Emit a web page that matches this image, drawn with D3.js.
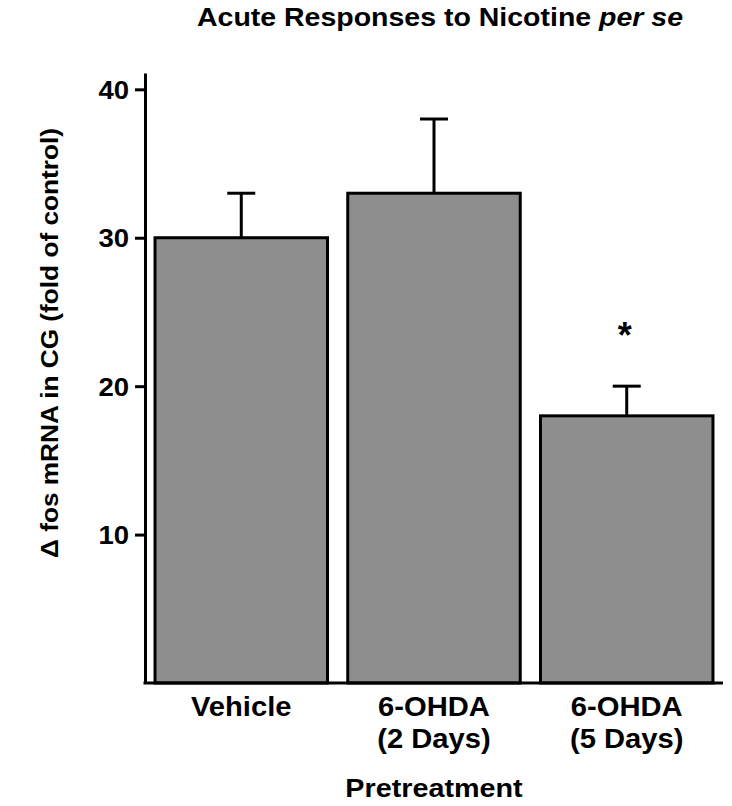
<!DOCTYPE html>
<html>
<head>
<meta charset="utf-8">
<script src="https://cdn.jsdelivr.net/npm/d3@7"></script>
<style>
  body { margin: 0; background: #fff; }
  text { font-family: "Liberation Sans", Arial, Helvetica, sans-serif; font-weight: bold; fill: #000; }
</style>
</head>
<body>
<svg id="chart" width="732" height="806"></svg>
<script>
// values
const groups = ["Vehicle", "6-OHDA (2 Days)", "6-OHDA (5 Days)"]
const groupLines = [["Vehicle"], ["6-OHDA", "(2 Days)"], ["6-OHDA", "(5 Days)"]]
const means = [30, 33, 18]
const errors = [3, 5, 2]
const significant = [false, false, true]
const yTicks = [10, 20, 30, 40]

const svg = d3.select("#chart")
const plotLeft = 145, plotRight = 723, plotBottom = 683, plotTop = 73

// the original lettering is a bit wider than Liberation Sans
function stretch(sel, cx, sx)
{
    sel.attr("transform", `translate(${cx},0) scale(${sx},1) translate(${-cx},0)`)
}

let x = d3.scaleBand()
    .domain(groups)
    .range([plotLeft, plotRight])
    .paddingInner(0.105)
    .paddingOuter(0.052)

let y = d3.scaleLinear()
    .domain([0, 41.1])
    .range([plotBottom, plotTop])

// bars
svg.selectAll("rect.bar")
    .data(groups)
    .enter()
    .append("rect")
        .attr("class", "bar")
        .attr("x", d => x(d))
        .attr("y", (d, i) => y(means[i]))
        .attr("width", x.bandwidth())
        .attr("height", (d, i) => y(0) - y(means[i]))
        .style("fill", "#8e8e8e")
        .style("stroke", "#000")
        .style("stroke-width", 3)

// error bars (upper only)
const capHalf = 14
let err = svg.selectAll("g.err")
    .data(groups)
    .enter()
    .append("g")
        .attr("class", "err")
        .attr("transform", d => `translate(${x(d) + x.bandwidth()/2},0)`)
err.append("line")
    .attr("x1", 0).attr("x2", 0)
    .attr("y1", (d, i) => y(means[i]))
    .attr("y2", (d, i) => y(means[i] + errors[i]))
    .style("stroke", "#000").style("stroke-width", 3)
err.append("line")
    .attr("x1", -capHalf).attr("x2", capHalf)
    .attr("y1", (d, i) => y(means[i] + errors[i]))
    .attr("y2", (d, i) => y(means[i] + errors[i]))
    .style("stroke", "#000").style("stroke-width", 3)

// significance star
svg.selectAll("text.star")
    .data(groups.filter((d, i) => significant[i]))
    .enter()
    .append("text")
        .attr("class", "star")
        .attr("x", d => x(d) + x.bandwidth()/2 - 2)
        .attr("y", d => y(means[groups.indexOf(d)] + errors[groups.indexOf(d)]) - 38)
        .attr("text-anchor", "middle")
        .style("font-size", "36px")
        .text("*")

// y axis
let yAxis = svg.append("g")
    .attr("transform", `translate(${plotLeft},0)`)
    .call(d3.axisLeft(y).tickValues(yTicks).tickSize(10).tickSizeOuter(0).tickPadding(6))
yAxis.select(".domain").style("stroke-width", 3)
yAxis.selectAll(".tick line").style("stroke-width", 3)
yAxis.selectAll(".tick text")
    .style("font-size", "25px")
    .style("font-family", "Liberation Sans, Arial, sans-serif")
    .style("font-weight", "bold")
    .attr("dy", "0.36em")
    .call(stretch, -16, 1.1)

// x axis line
svg.append("line")
    .attr("x1", plotLeft - 1.5).attr("x2", plotRight)
    .attr("y1", plotBottom).attr("y2", plotBottom)
    .style("stroke", "#000").style("stroke-width", 3)

// category labels
let lab = svg.selectAll("text.cat")
    .data(groups)
    .enter()
    .append("text")
        .attr("class", "cat")
        .attr("text-anchor", "middle")
        .style("font-size", "27px")
lab.each(function (d, i) {
    let t = d3.select(this)
    let cx = x(d) + x.bandwidth()/2
    groupLines[i].forEach(function (line, j) {
        t.append("tspan")
            .attr("x", cx)
            .attr("y", 716 + j * 32)
            .text(line)
    })
    stretch(t, cx, 1.08)
})

// axis titles
svg.append("text")
    .attr("x", (plotLeft + plotRight) / 2)
    .attr("y", 797)
    .attr("text-anchor", "middle")
    .style("font-size", "25px")
    .text("Pretreatment")
    .call(stretch, (plotLeft + plotRight) / 2, 1.15)

svg.append("g")
    .attr("transform", "translate(58,343) rotate(-90)")
  .append("text")
    .attr("text-anchor", "middle")
    .style("font-size", "23px")
    .text("Δ fos mRNA in CG (fold of control)")
    .call(stretch, 0, 1.14)

let title = svg.append("text")
    .attr("x", 440)
    .attr("y", 26)
    .attr("text-anchor", "middle")
    .style("font-size", "25px")
    .call(stretch, 440, 1.14)
title.append("tspan").text("Acute Responses to Nicotine ")
title.append("tspan").style("font-style", "italic").text("per se")
</script>
</body>
</html>
